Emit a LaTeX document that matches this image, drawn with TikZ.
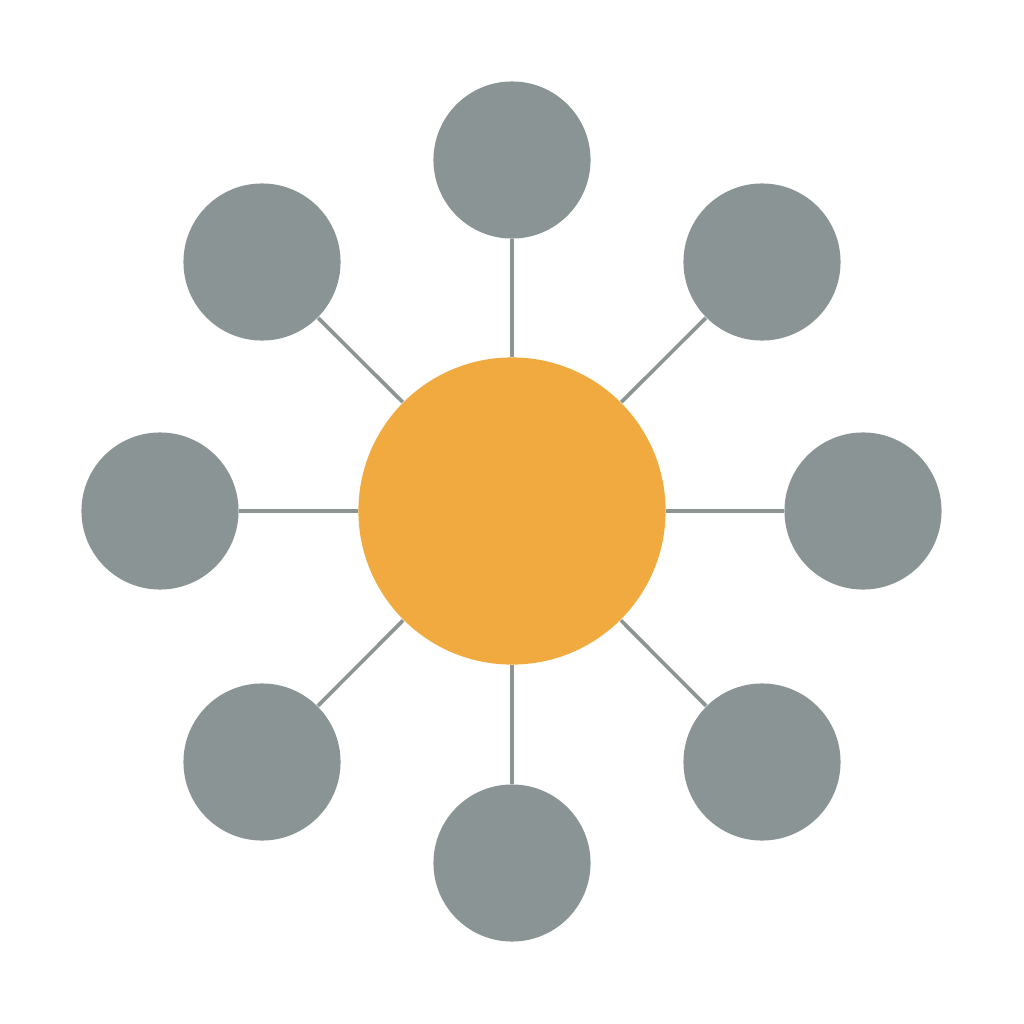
\documentclass[tikz,border=0pt]{standalone}
\definecolor{sat}{HTML}{8A9494}
\definecolor{hub}{HTML}{F0AA40}
\definecolor{edge}{HTML}{8C9494}
\tikzset{
  satnode/.style={circle, fill=sat, minimum size=1.57cm, inner sep=0pt, draw=none},
  hubnode/.style={circle, fill=hub, minimum size=3.07cm, inner sep=0pt, draw=none},
  link/.style={draw=edge, line width=0.036cm}
}
\begin{document}
\begin{tikzpicture}[x=0.01cm,y=-0.01cm]
\useasboundingbox[fill=white] (0,0) rectangle (1024,1024);
\node[hubnode] (c) at (512,511) {};
\node[satnode] (n) at (512,160) {};
\node[satnode] (s) at (512,863) {};
\node[satnode] (w) at (160,511) {};
\node[satnode] (e) at (863,511) {};
\node[satnode] (nw) at (262,262) {};
\node[satnode] (ne) at (762,262) {};
\node[satnode] (sw) at (262,762) {};
\node[satnode] (se) at (762,762) {};
\foreach \t in {n,s,w,e,nw,ne,sw,se}{
  \draw[link] (c) -- (\t);
}
\end{tikzpicture}
\end{document}
